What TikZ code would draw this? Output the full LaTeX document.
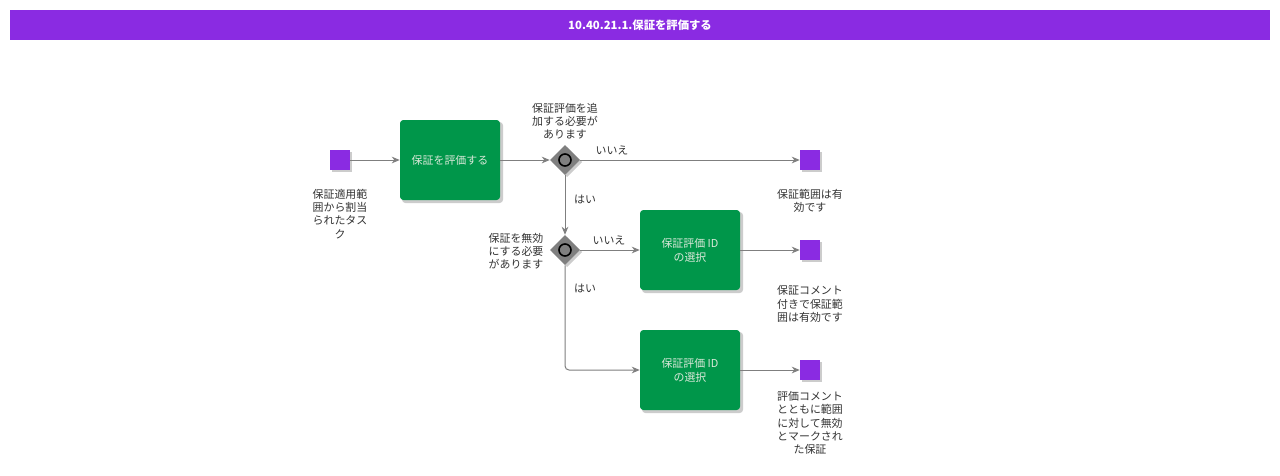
\documentclass[tikz,border=0pt]{standalone}
\usepackage{fontspec}
\setmainfont{Noto Sans CJK JP}
\usetikzlibrary{shapes.geometric,arrows.meta}
\definecolor{hdr}{HTML}{8A2BE2}
\definecolor{evt}{HTML}{8A2BE2}
\definecolor{task}{HTML}{00964A}
\definecolor{ln}{HTML}{7F7F7F}
\definecolor{txt}{HTML}{333333}
\definecolor{tasktxt}{HTML}{D8E8D8}
\tikzset{
  evbox/.style={draw=none,fill=evt,minimum width=15pt,minimum height=15pt,inner sep=0pt},
  tkbox/.style={fill=task,rounded corners=2.5pt,minimum width=75pt,minimum height=60pt,inner sep=0pt,text=tasktxt,font=\fontsize{8.2}{10.5}\selectfont,align=center},
  gwbox/.style={diamond,fill=ln,draw=none,minimum width=22.5pt,minimum height=22.5pt,inner sep=0pt},
  lbl/.style={text=txt,font=\fontsize{8.2}{9.9}\selectfont,align=center,inner sep=0pt},
  conn/.style={draw=ln,line width=0.75pt,-{Stealth[length=6pt,width=5pt]}},
  shd/.style={fill=black!20}
}
\begin{document}
\begin{tikzpicture}[x=0.75pt,y=-0.75pt]
\useasboundingbox (0,0) rectangle (1280,475);
\fill[white] (0,0) rectangle (1280,475);
% header
\fill[hdr] (10,10) rectangle (1270,40);
\node[text=white,font=\bfseries\fontsize{8.5}{10}\selectfont,inner sep=0pt] (title) at (640,25) {10.40.21.1.保証を評価する};
% shadows
\foreach \x/\y in {340/160,810/160,810/250,810/370}{\fill[shd] (\x-8,\y-8) rectangle (\x+12,\y+12);}
\foreach \x/\y in {450/160,690/250,690/370}{\fill[shd,rounded corners=2.5pt] (\x-48,\y-38) rectangle (\x+53,\y+43);}
\foreach \x/\y in {565/160,565/250}{\fill[shd] (\x+2,\y-13) -- (\x+17,\y+2) -- (\x+2,\y+17) -- (\x-13,\y+2) -- cycle;}
% nodes
\node[evbox] (s) at (340,160) {};
\node[tkbox] (t1) at (450,160) {保証を評価する};
\node[gwbox] (g1) at (565,160) {};
\draw[black,line width=1.2pt,fill=ln] (g1) circle (4.5pt);
\node[gwbox] (g2) at (565,250) {};
\draw[black,line width=1.2pt,fill=ln] (g2) circle (4.5pt);
\node[evbox] (e1) at (810,160) {};
\node[tkbox] (t2) at (690,250) {保証評価 ID\\の選択};
\node[evbox] (e2) at (810,250) {};
\node[tkbox] (t3) at (690,370) {保証評価 ID\\の選択};
\node[evbox] (e3) at (810,370) {};
\coordinate (c3) at (565,370);
% connectors
\draw[conn] (s) -- (t1);
\draw[conn] (t1) -- (g1);
\draw[conn] (g1) -- (e1);
\draw[conn] (g1) -- (g2);
\draw[conn] (g2) -- (t2);
\draw[conn] (t2) -- (e2);
\draw[conn,rounded corners=3pt] (g2) -- (c3) -- (t3);
\draw[conn] (t3) -- (e3);
% labels
\node[lbl] (ls) at (340,214) {保証適用範\\囲から割当\\られたタス\\ク};
\node[lbl] (lg1) at (565,121) {保証評価を追\\加する必要が\\あります};
\node[lbl] (lg2) at (516,251) {保証を無効\\にする必要\\があります};
\node[lbl] (l1) at (612,150) {いいえ};
\node[lbl] (l2) at (585,199) {はい};
\node[lbl] (l3) at (609,240) {いいえ};
\node[lbl] (l4) at (585,288) {はい};
\node[lbl] (le1) at (810,201) {保証範囲は有\\効です};
\node[lbl] (le2) at (810,304) {保証コメント\\付きで保証範\\囲は有効です};
\node[lbl] (le3) at (810,423) {評価コメント\\とともに範囲\\に対して無効\\とマークされ\\た保証};
\end{tikzpicture}
\end{document}
